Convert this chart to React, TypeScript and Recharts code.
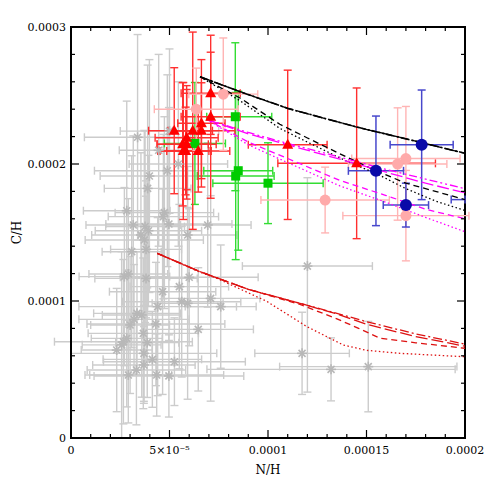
import { ScatterChart, Scatter, XAxis, YAxis, ErrorBar, ReferenceArea } from 'recharts';

// every value below is in units of 1e-5 (N/H on x, C/H on y)

// grey comparison sample (asterisks)
const grayX = [3.38, 3.98, 4.89, 3.89, 2.83, 4.74, 4.69, 4.97, 3.16, 3.76, 3.93, 3.55, 3.72, 3.81, 5.92, 6.94, 3.08, 2.71, 2.91, 3.81, 6.0, 4.65, 5.5, 5.62, 5.92, 7.09, 7.6, 4.4, 3.35, 3.59, 3.2, 3.0, 4.31, 6.46, 3.67, 3.87, 2.66, 2.32, 2.83, 3.7, 4.13, 5.25, 3.7, 3.32, 2.91, 4.35, 4.97, 2.57, 5.0, 4.45, 5.45, 12.0, 11.73, 13.2, 15.09];
const grayY = [21.95, 19.12, 19.51, 18.22, 16.59, 16.45, 16.16, 15.62, 15.55, 15.43, 15.13, 14.82, 14.45, 13.77, 14.82, 15.55, 13.6, 11.78, 11.97, 11.65, 11.73, 10.68, 11.05, 9.95, 9.83, 10.19, 9.59, 9.59, 9.1, 8.98, 8.66, 8.25, 8.32, 7.93, 7.64, 6.96, 7.03, 6.42, 7.27, 6.18, 5.74, 5.57, 5.33, 4.96, 4.6, 4.6, 4.53, 6.8, 22.4, 21.0, 20.0, 12.55, 6.18, 5.01, 5.21];
const grayEx = [2.7, 2.5, 3.7, 2.2, 2.2, 2.5, 2.8, 3.2, 2.4, 2.0, 2.7, 2.5, 3.0, 1.8, 2.5, 2.2, 1.5, 2.3, 2.0, 2.6, 3.5, 2.7, 2.5, 3.0, 1.8, 2.5, 1.8, 4.0, 2.2, 2.0, 2.8, 2.0, 3.5, 2.8, 2.8, 1.6, 3.5, 1.8, 1.8, 3.7, 2.5, 3.6, 2.6, 2.5, 2.2, 3.4, 3.8, 2.0, 2.5, 2.0, 2.5, 3.3, 2.4, 6.3, 4.5];
const grayEy: (number | number[])[] = [7.5, 8.5, 7.0, 9.0, 8.0, 7.0, 6.0, 8.5, 6.5, 7.0, 5.5, 6.0, 8.0, 5.0, 5.0, 6.0, 7.0, 6.5, 5.5, 6.0, 5.0, 7.5, 6.0, 5.5, 7.0, 7.5, 4.5, 6.5, 4.5, 6.0, 4.0, 5.0, 4.5, 4.5, 5.5, 4.0, 6.0, 4.5, 5.0, 3.5, 3.5, 3.2, 2.8, 4.0, 3.5, 3.0, 3.0, 6.8, 6.0, 7.0, 6.0, [9.2, 6.45], 3.0, 2.3, 3.3];

// red triangles
const redX = [7.09, 7.09, 5.24, 6.18, 6.62, 6.62, 5.87, 5.67, 5.87, 5.82, 5.7, 6.46, 11.0, 14.5];
const redY = [25.16, 23.45, 22.43, 22.43, 22.97, 22.43, 21.92, 21.44, 21.44, 20.95, 20.95, 20.95, 21.4, 20.05];
const redEx = [1.5, 1.5, 1.3, 1.0, 1.2, 1.7, 1.6, 1.3, 1.5, 1.3, 1.3, 1.6, 2.0, 4.0];
const redEy = [3.0, 5.95, 4.6, 7.2, 4.65, 3.5, 3.8, 4.5, 4.0, 3.2, 5.0, 3.0, 5.45, 5.5];

// green squares
const greenX = [8.34, 8.49, 8.36, 10.0, 6.29];
const greenY = [23.45, 19.51, 19.12, 18.6, 21.5];
const greenEx: (number | number[])[] = [[1.45, 1.85], 1.75, 1.95, 2.8, 1.55];
const greenEy = [5.4, 5.8, 6.1, 2.95, 4.45];

// pink circles
const pinkX = [7.73, 6.36, 17.0, 16.58, 12.9, 17.0];
const pinkY = [25.1, 24.0, 20.4, 20.0, 17.37, 16.23];
const pinkEx = [1.75, 2.13, 2.75, 2.5, 3.26, 3.2];
const pinkEy = [4.1, 3.0, 3.8, 4.1, 2.4, 3.3];

// blue circles (last one sits past the right edge, only its bar shows, cut at the frame)
const blueX = [17.8, 15.48, 17.0, 21.0];
const blueY = [21.4, 19.5, 17.0, 17.4];
const blueEx: (number | number[])[] = [1.6, 1.4, 1.15, [1.7, -1.0]];
const blueEy = [4.0, 4.0, 1.6, 0];

// model tracks
const blackAX = [6.55, 8.58, 11.0, 14.5, 17.8, 20.0];
const blackAY = [26.37, 25.28, 24.06, 22.7, 21.56, 20.78];
const blackBX = [6.55, 8.6, 10.6, 12.0, 14.0, 15.5, 17.0, 18.5, 20.0];
const blackBY = [26.37, 24.8, 22.9, 21.9, 20.5, 19.5, 18.6, 18.0, 17.4];
const blackCY = [26.37, 24.6, 22.6, 21.6, 20.2, 19.3, 18.2, 17.3, 16.6];

const magX = [6.89, 9.0, 11.0, 13.65, 16.0, 18.0, 20.0];
const magAY = [23.26, 22.3, 21.5, 20.5, 19.6, 18.9, 18.2];
const magBY = [23.26, 22.2, 21.4, 20.35, 19.4, 18.6, 17.9];
const magCY = [23.26, 21.6, 20.4, 18.8, 17.7, 16.7, 16.0];
const magDY = [23.26, 21.4, 20.1, 18.4, 17.2, 16.1, 15.06];

const redLineX = [4.38, 6.55, 9.0, 11.62, 13.5, 15.0, 17.5, 20.0];
const redAY = [13.48, 12.14, 10.85, 9.83, 9.1, 8.49, 7.6, 6.85];
const redBY = [13.48, 12.14, 10.85, 9.83, 9.05, 8.3, 7.4, 6.7];
const redCX = [4.38, 6.55, 9.0, 11.62, 13.5, 14.6, 15.69, 17.5, 20.0];
const redCY = [13.48, 12.14, 10.85, 9.75, 8.7, 8.0, 7.28, 6.95, 6.55];
const redDX = [4.38, 6.55, 7.4, 9.93, 11.96, 13.82, 15.0, 16.7, 20.0];
const redDY = [13.48, 12.1, 11.66, 9.98, 8.14, 6.79, 6.4, 6.18, 5.93];

const xTicks = [0, 1, 2, 3, 4, 5, 6, 7, 8, 9, 10, 11, 12, 13, 14, 15, 16, 17, 18, 19, 20];
const yTicks = [0, 2, 4, 6, 8, 10, 12, 14, 16, 18, 20, 22, 24, 26, 28, 30];
const xTickLabels: Record<number, string> = { 0: '0', 5: '5×10⁻⁵', 10: '0.0001', 15: '0.00015', 20: '0.0002' };
const yTickLabels: Record<number, string> = { 0: '0', 10: '0.0001', 20: '0.0002', 30: '0.0003' };

const FONT = 'DejaVu Serif';
const PLOT_W = 394;
const PLOT_H = 411;

const pts = (xs: number[], ys: number[], exs: any[], eys: any[]) =>
  xs.map((x, i) => ({ x, y: ys[i], ex: exs[i], ey: eys[i] }));
const curve = (xs: number[], ys: number[]) => xs.map((x, i) => ({ x, y: ys[i] }));

const Nothing = () => <g />;

const Asterisk = (p: any) => {
  const { cx, cy } = p;
  const r = 5;
  const d = r * 0.7;
  return (
    <g stroke="#b8b8b8" strokeWidth={1.6}>
      <line x1={cx - r} y1={cy} x2={cx + r} y2={cy} />
      <line x1={cx} y1={cy - r} x2={cx} y2={cy + r} />
      <line x1={cx - d} y1={cy - d} x2={cx + d} y2={cy + d} />
      <line x1={cx - d} y1={cy + d} x2={cx + d} y2={cy - d} />
    </g>
  );
};

const Triangle = (p: any) => {
  const { cx, cy } = p;
  return <polygon points={`${cx},${cy - 6} ${cx - 5.5},${cy + 4} ${cx + 5.5},${cy + 4}`} fill="#ff0000" />;
};

const Square = (p: any) => {
  const { cx, cy } = p;
  return <rect x={cx - 4.5} y={cy - 4.5} width={9} height={9} fill="#00cc00" />;
};

const dot = (fill: string, r: number) => (p: any) => <circle cx={p.cx} cy={p.cy} r={r} fill={fill} />;

// inward ticks on bottom, mirrored on top edge
const BottomTick = (p: any) => {
  const { x, y, payload } = p;
  const label = xTickLabels[payload.value];
  const len = label !== undefined ? 8 : 4;
  return (
    <g>
      <line x1={x} y1={y} x2={x} y2={y - len} stroke="#000" strokeWidth={1.2} />
      <line x1={x} y1={y - PLOT_H} x2={x} y2={y - PLOT_H + len} stroke="#000" strokeWidth={1.2} />
      {label !== undefined && (
        <text x={x} y={y + 16} textAnchor="middle" fontFamily={FONT} fontSize={11} fill="#000">
          {label}
        </text>
      )}
    </g>
  );
};

// inward ticks on left, mirrored on right edge
const LeftTick = (p: any) => {
  const { x, y, payload } = p;
  const label = yTickLabels[payload.value];
  const len = label !== undefined ? 8 : 4;
  return (
    <g>
      <line x1={x} y1={y} x2={x + len} y2={y} stroke="#000" strokeWidth={1.2} />
      <line x1={x + PLOT_W} y1={y} x2={x + PLOT_W - len} y2={y} stroke="#000" strokeWidth={1.2} />
      {label !== undefined && (
        <text x={x - 5} y={y + 4} textAnchor="end" fontFamily={FONT} fontSize={11} fill="#000">
          {label}
        </text>
      )}
    </g>
  );
};

const XTitle = (p: any) => {
  const { x, y, width } = p.viewBox;
  return (
    <text x={x + width / 2} y={y + 36} textAnchor="middle" fontFamily={FONT} fontSize={12} fill="#000">
      N/H
    </text>
  );
};

const YTitle = (p: any) => {
  const { x, y, height } = p.viewBox;
  const cx = x + 21;
  const cy = y + height / 2;
  return (
    <text x={cx} y={cy} transform={`rotate(-90 ${cx} ${cy})`} textAnchor="middle" fontFamily={FONT} fontSize={12} fill="#000">
      C/H
    </text>
  );
};

const model = (xs: number[], ys: number[], stroke: string, dash: string, width = 1.3) => (
  <Scatter
    data={curve(xs, ys)}
    shape={Nothing}
    line={{ stroke, strokeWidth: width, strokeDasharray: dash, fill: 'none' }}
    lineType="joint"
    isAnimationActive={false}
  />
);

export default function App() {
  return (
    <div style={{ position: 'absolute', left: 0, top: 0, width: 491, height: 491, background: '#fff' }}>
      <ScatterChart width={491} height={491} margin={{ top: 27, right: 26, bottom: 0, left: 0 }}>
        <XAxis
          type="number"
          dataKey="x"
          domain={[0, 20]}
          allowDataOverflow
          ticks={xTicks}
          interval={0}
          height={53}
          tickSize={0}
          tickMargin={0}
          tickLine={false}
          tick={BottomTick}
          axisLine={{ stroke: '#000', strokeWidth: 2 }}
          label={XTitle}
        />
        <YAxis
          type="number"
          dataKey="y"
          domain={[0, 30]}
          allowDataOverflow
          ticks={yTicks}
          interval={0}
          width={71}
          tickSize={0}
          tickMargin={0}
          tickLine={false}
          tick={LeftTick}
          axisLine={{ stroke: '#000', strokeWidth: 2 }}
          label={YTitle}
        />

        <Scatter data={pts(grayX, grayY, grayEx, grayEy)} shape={Asterisk} isAnimationActive={false}>
          <ErrorBar dataKey="ex" direction="x" width={4} stroke="#cccccc" strokeWidth={1.4} />
          <ErrorBar dataKey="ey" direction="y" width={4} stroke="#cccccc" strokeWidth={1.4} />
        </Scatter>

        {model(redLineX, redAY, '#dd1111', '9 3 2 3')}
        {model(redLineX, redBY, '#dd1111', '12 4')}
        {model(redCX, redCY, '#dd1111', '6 4')}
        {model(redDX, redDY, '#dd1111', '1.5 2.5')}

        {model(blackAX, blackAY, '#000', '9 2 2 2', 1.6)}
        {model(blackAX, blackAY, '#000', '14 3', 1.3)}
        {model(blackBX, blackBY, '#000', '6 4')}
        {model(blackBX, blackCY, '#000', '1.5 2.5')}

        {model(magX, magAY, '#ff00ff', '8 3 2 3 2 3')}
        {model(magX, magBY, '#ff00ff', '12 4')}
        {model(magX, magCY, '#ff00ff', '6 4')}
        {model(magX, magDY, '#ff00ff', '1.5 2.5')}

        <Scatter data={pts(greenX, greenY, greenEx, greenEy)} shape={Square} isAnimationActive={false}>
          <ErrorBar dataKey="ex" direction="x" width={4} stroke="#33dd33" strokeWidth={1.4} />
          <ErrorBar dataKey="ey" direction="y" width={4} stroke="#33dd33" strokeWidth={1.4} />
        </Scatter>

        <Scatter data={pts(redX, redY, redEx, redEy)} shape={Triangle} isAnimationActive={false}>
          <ErrorBar dataKey="ex" direction="x" width={4} stroke="#ff3030" strokeWidth={1.4} />
          <ErrorBar dataKey="ey" direction="y" width={4} stroke="#ff3030" strokeWidth={1.4} />
        </Scatter>

        <Scatter data={pts(pinkX, pinkY, pinkEx, pinkEy)} shape={dot('#ffaaaa', 5.5)} isAnimationActive={false}>
          <ErrorBar dataKey="ex" direction="x" width={4} stroke="#ffb4b4" strokeWidth={1.4} />
          <ErrorBar dataKey="ey" direction="y" width={4} stroke="#ffb4b4" strokeWidth={1.4} />
        </Scatter>

        <Scatter data={pts(blueX, blueY, blueEx, blueEy)} shape={dot('#0a0aa8', 6)} isAnimationActive={false}>
          <ErrorBar dataKey="ex" direction="x" width={4} stroke="#4848cc" strokeWidth={1.5} />
          <ErrorBar dataKey="ey" direction="y" width={4} stroke="#4848cc" strokeWidth={1.5} />
        </Scatter>

        <ReferenceArea x1={0} x2={20} y1={0} y2={30} fill="#ffffff" fillOpacity={0} stroke="#000000" strokeWidth={2} ifOverflow="visible" />
      </ScatterChart>
    </div>
  );
}
